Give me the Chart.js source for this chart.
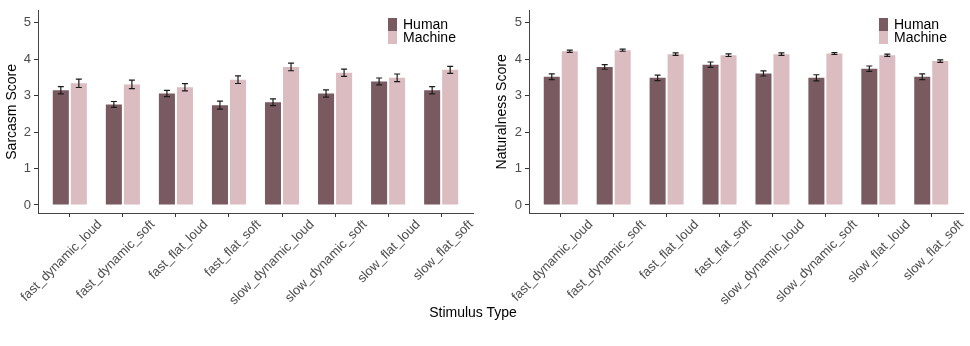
<!DOCTYPE html>
<html>
<head>
<meta charset="utf-8">
<script src="https://cdn.jsdelivr.net/npm/chart.js@4.4.1/dist/chart.umd.min.js"></script>
<style>
  html, body { margin: 0; padding: 0; background: #fff; }
  #wrap { position: relative; width: 970px; height: 346px; font-family: "Liberation Sans", Arial, sans-serif; }
  .panel { position: absolute; top: 0; width: 485px; height: 305px; }
  #xtitle { position: absolute; top: 304px; left: 0; width: 946px; text-align: center; font-size: 14px; color: #000; }
</style>
</head>
<body>
<div id="wrap">
  <div class="panel" style="left:0"><canvas id="sarcasmChart"></canvas></div>
  <div class="panel" style="left:485px"><canvas id="naturalChart"></canvas></div>
  <div id="xtitle">Stimulus Type</div>
</div>
<script>
/* global Chart */
const categories = [
  "fast_dynamic_loud", "fast_dynamic_soft", "fast_flat_loud", "fast_flat_soft",
  "slow_dynamic_loud", "slow_dynamic_soft", "slow_flat_loud", "slow_flat_soft",
];
const yTicks = [0, 1, 2, 3, 4, 5];

const sarcasmHuman = [3.15, 2.76, 3.06, 2.74, 2.82, 3.06, 3.39, 3.15];
const sarcasmHumanErr = [0.10, 0.08, 0.085, 0.11, 0.095, 0.10, 0.095, 0.10];
const sarcasmMachine = [3.34, 3.31, 3.23, 3.44, 3.79, 3.63, 3.49, 3.71];
const sarcasmMachineErr = [0.115, 0.115, 0.10, 0.105, 0.105, 0.10, 0.105, 0.095];

const naturalHuman = [3.52, 3.79, 3.49, 3.85, 3.61, 3.49, 3.74, 3.52];
const naturalHumanErr = [0.08, 0.065, 0.075, 0.075, 0.07, 0.085, 0.075, 0.08];
const naturalMachine = [4.22, 4.25, 4.14, 4.11, 4.14, 4.16, 4.11, 3.95];
const naturalMachineErr = [0.03, 0.03, 0.035, 0.035, 0.035, 0.025, 0.03, 0.035];

const HUMAN = "#7a5a61";
const MACHINE = "#dbbcc1";
const FONT = "'Liberation Sans', Arial, sans-serif";

// error bars drawn through the chart's own scales
const errorBars = {
  id: "errorBars",
  afterDatasetsDraw(chart) {
    const ctx = chart.ctx;
    const y = chart.scales.y;
    ctx.save();
    ctx.strokeStyle = "#1a1a1a";
    ctx.lineWidth = 1.2;
    chart.data.datasets.forEach((ds, i) => {
      const meta = chart.getDatasetMeta(i);
      meta.data.forEach((bar, j) => {
        const v = ds.data[j];
        const e = ds.err[j];
        const top = y.getPixelForValue(v + e);
        const bot = y.getPixelForValue(v - e);
        const x = bar.x;
        const hw = 3;
        ctx.beginPath();
        ctx.moveTo(x, top); ctx.lineTo(x, bot);
        ctx.moveTo(x - hw, top); ctx.lineTo(x + hw, top);
        ctx.moveTo(x - hw, bot); ctx.lineTo(x + hw, bot);
        ctx.stroke();
      });
    });
    ctx.restore();
  },
};

// ggplot-style legend tucked in the top-right of the panel
const keyLegend = {
  id: "keyLegend",
  afterDraw(chart, args, opts) {
    const ctx = chart.ctx;
    const a = chart.chartArea;
    const x0 = a.right - opts.fromRight;
    let y0 = 18;
    ctx.save();
    ctx.font = "14px " + FONT;
    ctx.textBaseline = "middle";
    chart.data.datasets.forEach((ds) => {
      ctx.fillStyle = ds.backgroundColor;
      ctx.fillRect(x0, y0, 9, 13);
      ctx.fillStyle = "#000";
      ctx.fillText(ds.label, x0 + 15, y0 + 7);
      y0 += 13;
    });
    ctx.restore();
  },
};

function makeChart(id, title, human, humanErr, machine, machineErr, leftW, rightPad, titlePad, legendFromRight) {
  return new Chart(document.getElementById(id), {
    type: "bar",
    data: {
      labels: categories,
      datasets: [
        { label: "Human", data: human, err: humanErr, backgroundColor: HUMAN },
        { label: "Machine", data: machine, err: machineErr, backgroundColor: MACHINE },
      ],
    },
    options: {
      responsive: true,
      maintainAspectRatio: false,
      animation: false,
      layout: { padding: { top: 7, right: rightPad, left: 0, bottom: 0 } },
      datasets: { bar: { categoryPercentage: 0.68, barPercentage: 0.89 } },
      plugins: {
        legend: { display: false },
        tooltip: { enabled: false },
        keyLegend: { fromRight: legendFromRight },
      },
      scales: {
        x: {
          grid: { offset: false, drawOnChartArea: false, drawTicks: true, tickLength: 4, color: "#333" },
          border: { display: true, color: "#444", width: 1 },
          ticks: {
            color: "#4d4d4d",
            font: { family: FONT, size: 13 },
            minRotation: 45,
            maxRotation: 45,
            autoSkip: false,
            padding: 0,
            labelOffset: 30,
          },
          // ggplot-like discrete expansion: 0.6 of a category on each side
          afterBuildTicks(s) {
            s._startValue = -0.6;
            s._valueRange = categories.length - 1 + 1.2;
          },
          afterFit(s) {
            s.height = 92;
            s.paddingLeft = 0;
            s.paddingRight = 0;
          },
        },
        y: {
          min: -0.22,
          max: 5.33,
          afterBuildTicks(s) { s.ticks = yTicks.map((v) => ({ value: v })); },
          grid: { drawOnChartArea: false, drawTicks: true, tickLength: 4, color: "#333" },
          border: { display: true, color: "#444", width: 1 },
          ticks: { color: "#4d4d4d", font: { family: FONT, size: 13 }, padding: 3 },
          title: { display: true, text: title, color: "#000", font: { family: FONT, size: 14 }, padding: { top: titlePad, bottom: 0 } },
          afterFit(s) { s.width = leftW; },
        },
      },
    },
    plugins: [errorBars, keyLegend],
  });
}

makeChart("sarcasmChart", "Sarcasm Score", sarcasmHuman, sarcasmHumanErr, sarcasmMachine, sarcasmMachineErr, 38, 12, 4, 85);
makeChart("naturalChart", "Naturalness Score", naturalHuman, naturalHumanErr, naturalMachine, naturalMachineErr, 44, 7, 9, 84);
</script>
</body>
</html>
